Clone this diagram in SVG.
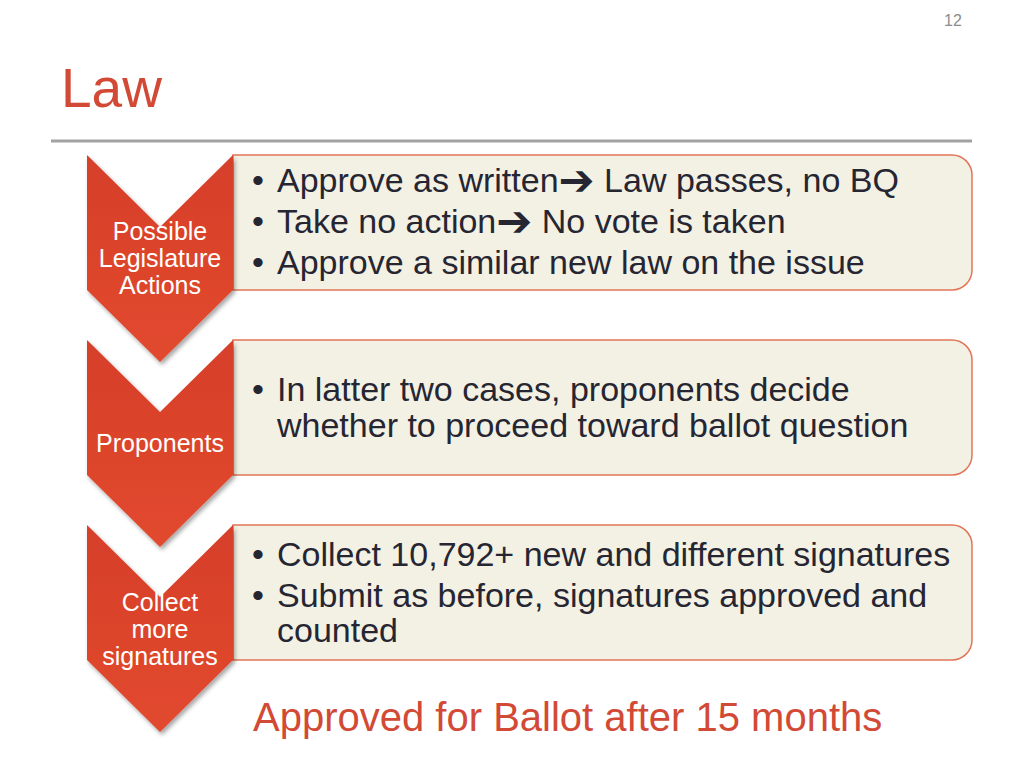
<svg xmlns="http://www.w3.org/2000/svg" width="1024" height="768" viewBox="0 0 1024 768">
<defs>
<linearGradient id="red" x1="0" y1="0" x2="0" y2="1">
<stop offset="0" stop-color="#d63f29"/>
<stop offset="1" stop-color="#e2492e"/>
</linearGradient>
<filter id="sh" x="-20%" y="-20%" width="140%" height="140%">
<feDropShadow dx="2" dy="3" stdDeviation="2" flood-color="#000" flood-opacity="0.35"/>
</filter>
<style>
.chev{fill:url(#red);filter:url(#sh)}
.box{fill:#f3f1e3;stroke:#e27458;stroke-width:1.5}
.lbl{font-family:"Liberation Sans",Arial,sans-serif;font-size:25px;fill:#fff;text-anchor:middle}
.txt{font-family:"Liberation Sans",Arial,sans-serif;font-size:34px;fill:#262633}
.bul{font-family:"Liberation Sans",Arial,sans-serif;font-size:34px;fill:#262633}
.arr{font-family:"DejaVu Sans",sans-serif;font-size:43px;font-weight:bold}
</style>
</defs>
<rect width="1024" height="768" fill="#fff"/>
<text x="953" y="26" font-family="Liberation Sans,Arial,sans-serif" font-size="16" fill="#8c8c8c" text-anchor="middle">12</text>
<text x="61" y="107" font-family="Liberation Sans,Arial,sans-serif" font-size="55" fill="#d24a35">Law</text>
<line x1="51" y1="141" x2="972" y2="141" stroke="#a2a2a2" stroke-width="3"/>

<g id="box1">
<path class="box" d="M233,155 H952 A20,20 0 0 1 972,175 V270 A20,20 0 0 1 952,290 H233 Z"/>
<text class="bul" x="252" y="192">•</text>
<text class="txt" x="277" y="192">Approve as written<tspan class="arr" dy="3">➔</tspan><tspan dy="-3"> Law passes, no BQ</tspan></text>
<text class="bul" x="252" y="233">•</text>
<text class="txt" x="277" y="233">Take no action<tspan class="arr" dy="3">➔</tspan><tspan dy="-3"> No vote is taken</tspan></text>
<text class="bul" x="252" y="274">•</text>
<text class="txt" x="277" y="274">Approve a similar new law on the issue</text>
</g>
<g id="box2">
<path class="box" d="M233,340 H952 A20,20 0 0 1 972,360 V455 A20,20 0 0 1 952,475 H233 Z"/>
<text class="bul" x="252" y="401">•</text>
<text class="txt" x="277" y="401">In latter two cases, proponents decide</text>
<text class="txt" x="277" y="437">whether to proceed toward ballot question</text>
</g>
<g id="box3">
<path class="box" d="M233,525 H952 A20,20 0 0 1 972,545 V640 A20,20 0 0 1 952,660 H233 Z"/>
<text class="bul" x="252" y="566">•</text>
<text class="txt" x="277" y="566">Collect 10,792+ new and different signatures</text>
<text class="bul" x="252" y="607">•</text>
<text class="txt" x="277" y="607">Submit as before, signatures approved and</text>
<text class="txt" x="277" y="642">counted</text>
</g>

<g id="chev1">
<path class="chev" d="M87,155 L160,227 L233,155 L233,290 L160,362 L87,290 Z"/>
<text class="lbl" x="160" y="240">Possible</text>
<text class="lbl" x="160" y="267">Legislature</text>
<text class="lbl" x="160" y="294">Actions</text>
</g>
<g id="chev2">
<path class="chev" d="M87,340 L160,412 L233,340 L233,475 L160,547 L87,475 Z"/>
<text class="lbl" x="160" y="452">Proponents</text>
</g>
<g id="chev3">
<path class="chev" d="M87,525 L160,597 L233,525 L233,660 L160,732 L87,660 Z"/>
<text class="lbl" x="160" y="611">Collect</text>
<text class="lbl" x="160" y="638">more</text>
<text class="lbl" x="160" y="665">signatures</text>
</g>

<g id="connectors"></g>

<text x="253" y="731" font-family="Liberation Sans,Arial,sans-serif" font-size="40" fill="#d24a35">Approved for Ballot after 15 months</text>
</svg>
